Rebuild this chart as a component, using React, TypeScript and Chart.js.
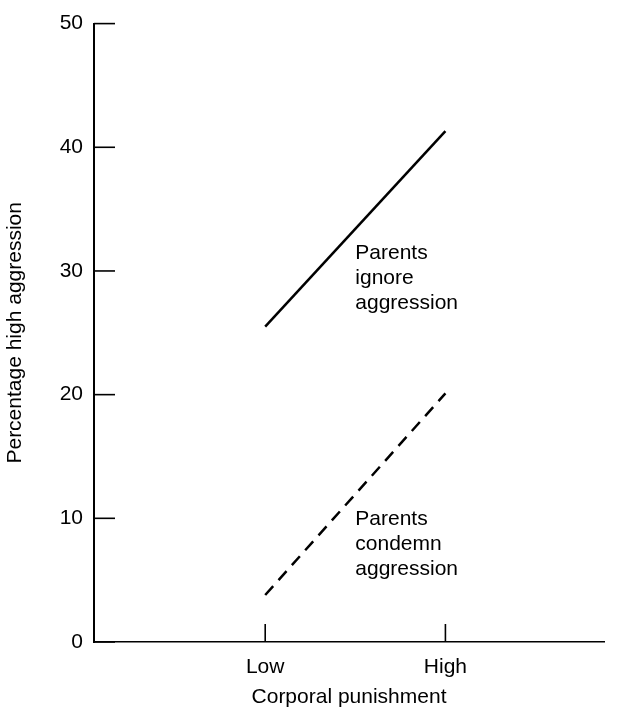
import React, { useEffect, useRef } from 'react';
import { Chart, registerables } from 'chart.js';

Chart.register(...registerables);

// ---- Data ----
const categories = ['Low', 'High'];
const categoryPositions = [1, 2];
const ignoreValues = [25.5, 41.3];
const condemnValues = [3.8, 20.1];
const yTicks = [0, 10, 20, 30, 40, 50];
const ignoreLabel = ['Parents', 'ignore', 'aggression'];
const condemnLabel = ['Parents', 'condemn', 'aggression'];
const ignoreLabelAnchor = [1.5, 31.4];
const condemnLabelAnchor = [1.5, 9.9];
const xTitle = 'Corporal punishment';
const yTitle = 'Percentage high aggression';

const FONT_FAMILY = '"Liberation Sans", Arial, Helvetica, sans-serif';
const FONT_SIZE = 21;

const insideTicksAndLabels = {
  id: 'insideTicksAndLabels',
  afterDatasetsDraw(chart: any) {
    const ctx = chart.ctx;
    const xs = chart.scales.x;
    const ys = chart.scales.y;
    ctx.save();
    ctx.strokeStyle = '#000';
    ctx.lineWidth = 1.6;
    ys.ticks.forEach((t: any) => {
      const py = ys.getPixelForValue(t.value);
      ctx.beginPath();
      ctx.moveTo(xs.left, py);
      ctx.lineTo(xs.left + 21, py);
      ctx.stroke();
    });
    xs.ticks.forEach((t: any) => {
      const px = xs.getPixelForValue(t.value);
      ctx.beginPath();
      ctx.moveTo(px, ys.bottom);
      ctx.lineTo(px, ys.bottom - 18);
      ctx.stroke();
    });
    ctx.fillStyle = '#000';
    ctx.font = `${FONT_SIZE}px ${FONT_FAMILY}`;
    ctx.textAlign = 'left';
    ctx.textBaseline = 'middle';
    const drawLabel = (lines: string[], anchor: number[]) => {
      const px = xs.getPixelForValue(anchor[0]);
      const py = ys.getPixelForValue(anchor[1]);
      lines.forEach((line, i) => ctx.fillText(line, px, py + i * 25));
    };
    drawLabel(ignoreLabel, ignoreLabelAnchor);
    drawLabel(condemnLabel, condemnLabelAnchor);
    ctx.restore();
  },
};

export default function App() {
  const canvasRef = useRef<HTMLCanvasElement | null>(null);

  useEffect(() => {
    document.body.style.margin = '0';
    const canvas = canvasRef.current;
    if (!canvas) return;
    const font = { family: FONT_FAMILY, size: FONT_SIZE };
    const chart = new Chart(canvas, {
      type: 'line',
      data: {
        datasets: [
          {
            label: 'Parents ignore aggression',
            data: categoryPositions.map((x, i) => ({ x, y: ignoreValues[i] })),
            borderColor: '#000',
            borderWidth: 2.5,
            pointRadius: 0,
            fill: false,
          },
          {
            label: 'Parents condemn aggression',
            data: categoryPositions.map((x, i) => ({ x, y: condemnValues[i] })),
            borderColor: '#000',
            borderWidth: 2.5,
            borderDash: [12, 8],
            pointRadius: 0,
            fill: false,
          },
        ],
      },
      options: {
        animation: false,
        responsive: false,
        devicePixelRatio: 1,
        layout: { padding: { top: 14, right: 14, left: 0, bottom: 0 } },
        plugins: {
          legend: { display: false },
          tooltip: { enabled: false },
        },
        scales: {
          x: {
            type: 'linear',
            min: 0.05,
            max: 2.88,
            afterBuildTicks: (s: any) => {
              s.ticks = categoryPositions.map((v) => ({ value: v }));
            },
            afterFit: (s: any) => {
              s.height = 72;
            },
            grid: { display: false, drawTicks: false },
            border: { display: true, color: '#000', width: 1.6 },
            ticks: {
              font,
              color: '#000',
              padding: 13,
              maxRotation: 0,
              autoSkip: false,
              callback: (v: any) => {
                const i = categoryPositions.indexOf(Number(v));
                return i >= 0 ? categories[i] : '';
              },
            },
            title: {
              display: true,
              text: xTitle,
              font,
              color: '#000',
              padding: { top: 0, bottom: 4 },
            },
          },
          y: {
            type: 'linear',
            min: 0,
            max: 50,
            afterBuildTicks: (s: any) => {
              s.ticks = yTicks.map((v) => ({ value: v }));
            },
            afterFit: (s: any) => {
              s.width = 94;
            },
            grid: { display: false, drawTicks: false },
            border: { display: true, color: '#000', width: 2 },
            ticks: { font, color: '#000', padding: 11 },
            title: {
              display: true,
              text: yTitle,
              font,
              color: '#000',
              padding: { top: 3, bottom: 0 },
            },
          },
        },
      },
      plugins: [insideTicksAndLabels],
    } as any);
    return () => chart.destroy();
  }, []);

  return (
    <div style={{ width: 618, height: 714 }}>
      <canvas ref={canvasRef} width={618} height={714} />
    </div>
  );
}
